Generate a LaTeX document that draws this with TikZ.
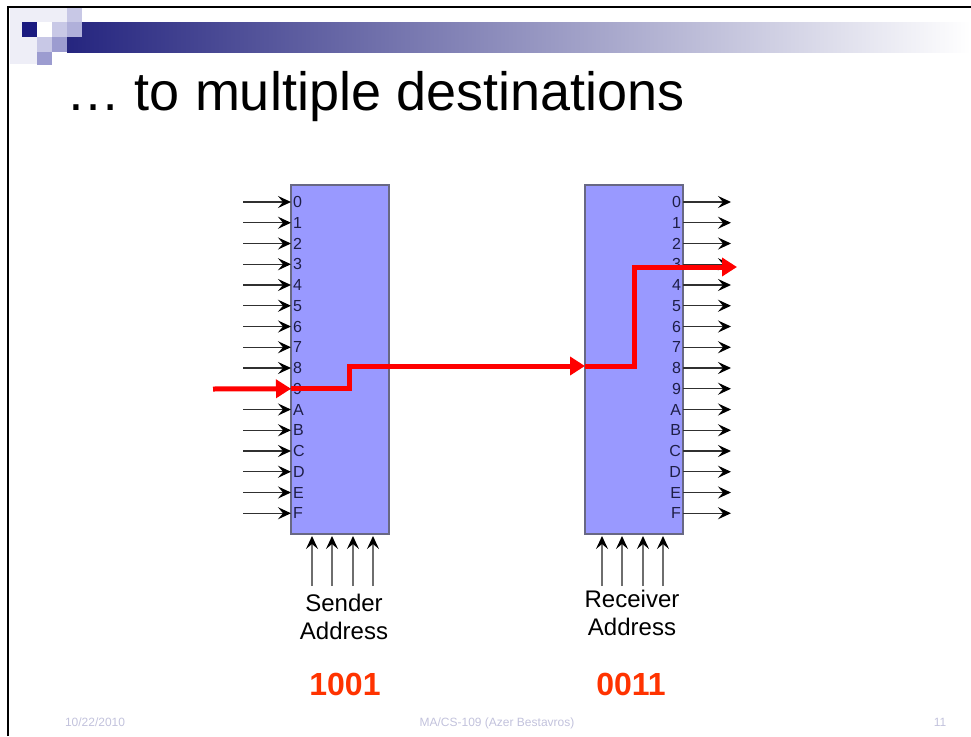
\documentclass[tikz,border=0pt]{standalone}
\usepackage{fontspec}
\setmainfont{Liberation Sans}
\usepackage{tikz}
\usetikzlibrary{arrows.meta, positioning}
\definecolor{hdrnavy}{HTML}{25257F}
\definecolor{hdrmid}{HTML}{D0D0DC}
\definecolor{tiledark}{HTML}{1A1A80}
\definecolor{tilemid}{HTML}{9C9CD0}
\definecolor{tilelight}{HTML}{C8C8E6}
\definecolor{tilepale}{HTML}{EEEEF7}
\definecolor{boxfill}{HTML}{9999FF}
\definecolor{boxline}{HTML}{686884}
\definecolor{portcol}{HTML}{1E1E46}
\definecolor{wirecol}{HTML}{303030}
\definecolor{hotred}{HTML}{FF0000}
\definecolor{codecol}{HTML}{FF3300}
\definecolor{footcol}{HTML}{C2C2DC}

\begin{document}
\begin{tikzpicture}[
        x=1pt, y=-1pt,
        every node/.style={inner sep=0pt, outer sep=0pt},
        >={Stealth[length=13pt, width=12pt, inset=5pt, color=black]},
        box/.style={draw=boxline, fill=boxfill, line width=1.2pt, minimum width=98pt, minimum height=349pt, anchor=north west},
        port/.style={text=portcol, font=\fontsize{16}{16}\selectfont},
        wire/.style={->, draw=wirecol, line width=1.3pt},
        addr/.style={->, draw=wirecol!70, line width=1.3pt},
        hot/.style={draw=hotred, line width=5pt, -{Triangle[length=15pt, width=18pt]}},
        caption/.style={align=center, font=\fontsize{24}{28.5}\selectfont},
        code/.style={text=codecol, font=\fontsize{32}{32}\selectfont\bfseries},
        foot/.style={text=footcol, font=\fontsize{12}{12}\selectfont}
    ]
    \useasboundingbox (0,0) rectangle (971,736);

    \fill[tilepale] (10,8) rectangle (67,22);
    \fill[tilepale] (10,22) rectangle (22,37);
    \fill[tilepale] (10,37) rectangle (37,64);
    \shade[left color=hdrnavy, middle color=hdrmid, right color=white] (67,22) rectangle (971,52);
    \fill[tilelight] (67,8) rectangle (82,22);
    \fill[tiledark] (22,22) rectangle (37,37);
    \fill[tilelight] (52,22) rectangle (67,37);
    \fill[tilemid!80] (67,22) rectangle (82,37);
    \fill[tilelight] (37,37) rectangle (52,52);
    \fill[tilemid] (52,37) rectangle (67,52);
    \fill[tilemid] (37,52) rectangle (52,65);
    \draw[line width=2pt] (8,736) -- (8,7) -- (971,7);

    \node[anchor=base west, font=\fontsize{54}{60}\selectfont] (title) at (66,110) {… to multiple destinations};

    \node[box] (sender) at (291,185) {};
    \node[box] (receiver) at (585,185) {};

    \foreach \l [count=\i from 0] in {0,1,2,3,4,5,6,7,8,9,A,B,C,D,E,F} {
        \coordinate (sin\i) at (243, {202+20.75*\i});
        \coordinate (sp\i) at (291, {202+20.75*\i});
        \coordinate (rp\i) at (683, {202+20.75*\i});
        \coordinate (rout\i) at (731, {202+20.75*\i});
        \node[port, right=2pt of sp\i] (s\i) {\l};
        \node[port, left=2pt of rp\i] (r\i) {\l};
        \draw[wire] (sin\i) -- (sp\i);
        \draw[wire] (rp\i) -- (rout\i);
    }

    \foreach \x [count=\k] in {312,332,353,373} {
        \coordinate (sa\k) at (\x,586);
        \coordinate (sb\k) at (\x,536);
        \draw[addr] (sa\k) -- (sb\k);
    }
    \foreach \x [count=\k] in {602,622,643,663} {
        \coordinate (ra\k) at (\x,586);
        \coordinate (rb\k) at (\x,536);
        \draw[addr] (ra\k) -- (rb\k);
    }

    \coordinate (hotin) at (213,389);
    \coordinate (hotjog) at (349,366);
    \coordinate (hotrx) at (585,366);
    \coordinate (hotturn) at (634,267);
    \coordinate (hotout) at (737,267);
    \draw[hot] (hotin) -- (sp9);
    \draw[hot] (sp9) -| (hotjog) -- (hotrx);
    \draw[hot] (hotrx) -| (hotturn) -- (hotout);

    \node[caption] (sendcap) at (344,617) {Sender\\Address};
    \node[caption] (recvcap) at (632,613) {Receiver\\Address};
    \node[code] (sendcode) at (345,684) {1001};
    \node[code] (recvcode) at (631,684) {0011};

    \node[foot, anchor=base west] (date) at (65,726) {10/22/2010};
    \node[foot, anchor=base] (course) at (497,726) {MA/CS-109 (Azer Bestavros)};
    \node[foot, anchor=base] (page) at (940,726) {11};
\end{tikzpicture}
\end{document}
